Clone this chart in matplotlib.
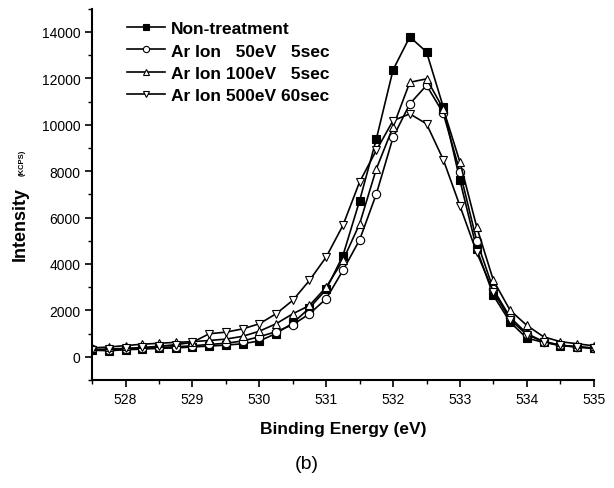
import matplotlib
matplotlib.use("Agg")
import matplotlib.pyplot as plt
from matplotlib.ticker import MultipleLocator

plt.rcParams["font.family"] = ["Liberation Sans", "DejaVu Sans"]

energy = [527.5 + 0.25 * i for i in range(31)]

non_treat = [280, 260, 300, 330, 360, 380, 420, 460, 500, 560, 680,
             1000, 1450, 2100, 2900, 4360, 6730, 9390, 12370, 13790, 13140,
             10770, 7600, 4650, 2640, 1490, 800, 620, 480, 420, 360]
ar50 = [320, 300, 330, 360, 400, 430, 470, 530, 580, 680, 860,
        1080, 1380, 1850, 2500, 3720, 5040, 7020, 9460, 10900, 11700,
        10500, 7970, 5000, 2900, 1700, 1000, 650, 500, 420, 380]
ar100 = [380, 420, 480, 540, 580, 620, 650, 700, 760, 880, 1100,
         1420, 1850, 2210, 3000, 4150, 5730, 8100, 9910, 11830, 11980,
         10690, 8390, 5600, 3290, 2000, 1350, 860, 650, 560, 470]
ar500 = [300, 330, 360, 400, 450, 520, 620, 990, 1060, 1200, 1420,
         1850, 2430, 3290, 4300, 5660, 7540, 8900, 10180, 10470, 10040,
         8500, 6500, 4500, 2800, 1600, 950, 650, 500, 430, 370]

series = [
    ("Non-treatment", non_treat, "s", "black"),
    ("Ar Ion   50eV   5sec", ar50, "o", "white"),
    ("Ar Ion 100eV   5sec", ar100, "^", "white"),
    ("Ar Ion 500eV 60sec", ar500, "v", "white"),
]

fig = plt.figure(figsize=(6.14, 4.89), dpi=100)
ax = fig.add_axes([0.150, 0.221, 0.817, 0.759])

for label, vals, mk, fc in series:
    ax.plot(energy, vals, color="black", lw=1.2, marker=mk, ms=6,
            mfc=fc, mec="black", mew=0.8, label=label)

ax.set_xlim(527.5, 535)
ax.set_ylim(-1000, 15000)
ax.xaxis.set_major_locator(MultipleLocator(1))
ax.xaxis.set_minor_locator(MultipleLocator(0.5))
ax.yaxis.set_minor_locator(MultipleLocator(1000))
ax.set_yticks(range(0, 14001, 2000))

for s in ["top", "right"]:
    ax.spines[s].set_visible(False)
for s in ["left", "bottom"]:
    ax.spines[s].set_linewidth(1.5)

ax.tick_params(which="major", direction="out", length=5, width=1.2, labelsize=10)
ax.tick_params(which="minor", direction="out", length=3, width=1.0)

ax.set_xlabel("Binding Energy (eV)", fontsize=12.5, fontweight="bold", labelpad=11)

fig.text(20 / 614, 1 - 224 / 489, "Intensity", rotation=90, fontsize=13,
         fontweight="bold", ha="center", va="center")
fig.text(22 / 614, 1 - 163 / 489, "(KCPS)", rotation=90, fontsize=5.5,
         fontweight="bold", ha="center", va="center")

leg = ax.legend(loc="upper left", bbox_to_anchor=(0.045, 1.0), frameon=False,
                prop={"size": 12.5, "weight": "bold"}, handlelength=2.2,
                handletextpad=0.35, labelspacing=0.42, borderaxespad=0.3,
                markerscale=0.75)

fig.text(307 / 614, 1 - 465 / 489, "(b)", fontsize=14, ha="center", va="center")

fig.savefig("out.png", dpi=100)
